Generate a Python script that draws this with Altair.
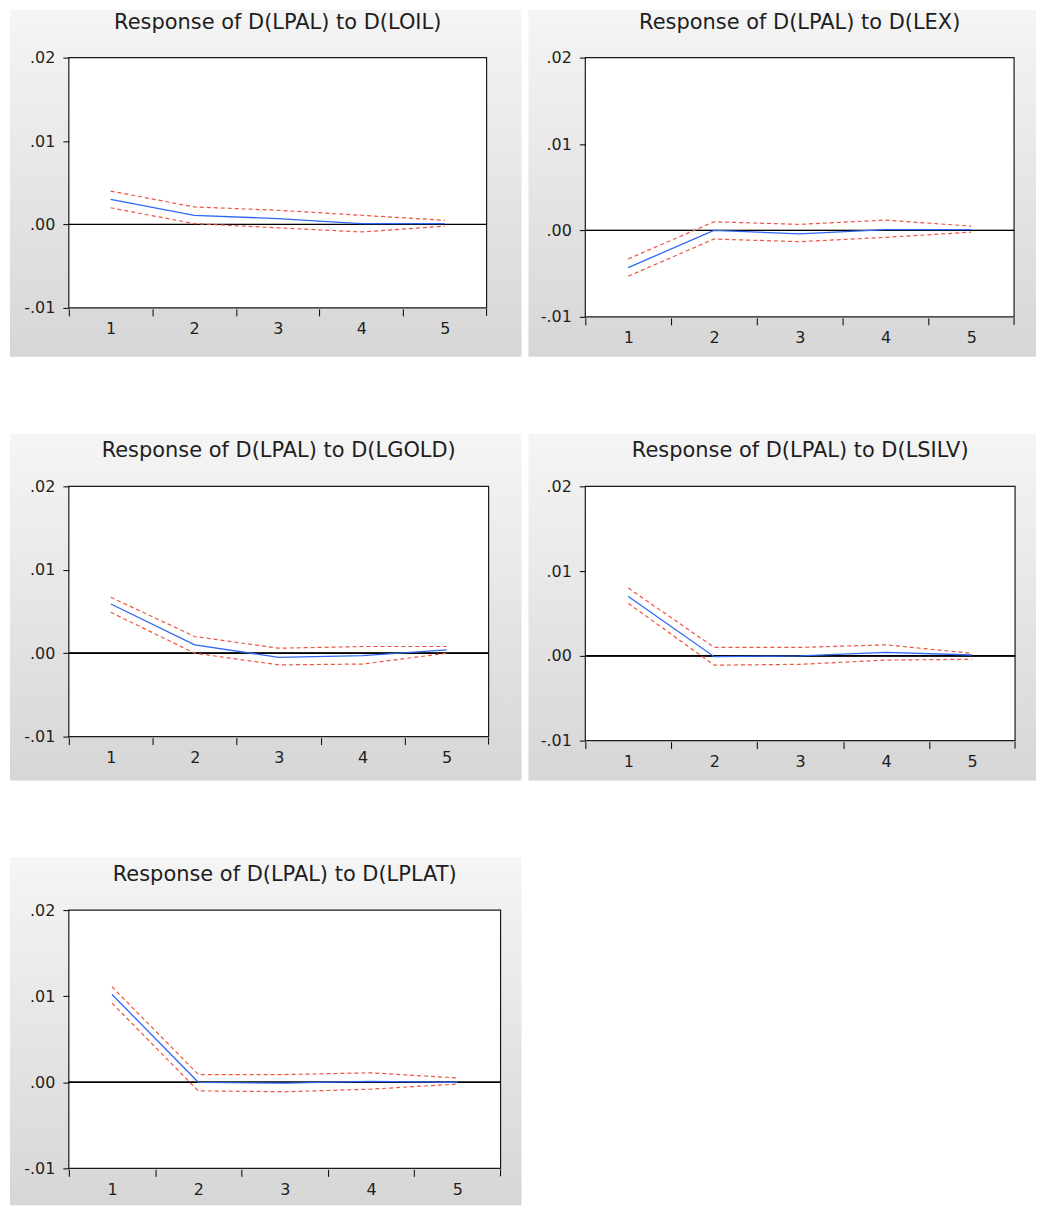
import altair as alt
import pandas as pd

# ---------------- data ----------------
periods = [1, 2, 3, 4, 5]

titles = [
    "Response of D(LPAL) to D(LOIL)",
    "Response of D(LPAL) to D(LEX)",
    "Response of D(LPAL) to D(LGOLD)",
    "Response of D(LPAL) to D(LSILV)",
    "Response of D(LPAL) to D(LPLAT)",
]

resp_loil = [0.0030, 0.0011, 0.0007, 0.0001, 0.0001]
upper_loil = [0.0040, 0.0021, 0.0017, 0.0011, 0.0005]
lower_loil = [0.0020, 0.0001, -0.0004, -0.0009, -0.0002]

resp_lex = [-0.0043, 0.0000, -0.0004, 0.0001, 0.0001]
upper_lex = [-0.0033, 0.0010, 0.0007, 0.0012, 0.0005]
lower_lex = [-0.0053, -0.0010, -0.0013, -0.0008, -0.0002]

resp_lgold = [0.0059, 0.0010, -0.0005, -0.0003, 0.0004]
upper_lgold = [0.0067, 0.0020, 0.0006, 0.0008, 0.0008]
lower_lgold = [0.0049, 0.0000, -0.0014, -0.0013, 0.0000]

resp_lsilv = [0.0070, -0.0001, 0.0000, 0.0004, 0.0001]
upper_lsilv = [0.0080, 0.0010, 0.0010, 0.0013, 0.0003]
lower_lsilv = [0.0062, -0.0011, -0.0010, -0.0005, -0.0004]

resp_lplat = [0.0102, 0.0000, -0.0001, 0.0001, 0.0000]
upper_lplat = [0.0111, 0.0009, 0.0009, 0.0011, 0.0005]
lower_lplat = [0.0092, -0.0010, -0.0011, -0.0008, -0.0002]

y_ticks = [-0.01, 0.0, 0.01, 0.02]
x_labels = [1, 2, 3, 4, 5]
x_last_edge = [5.5]

series = [
    (resp_loil, upper_loil, lower_loil),
    (resp_lex, upper_lex, lower_lex),
    (resp_lgold, upper_lgold, lower_lgold),
    (resp_lsilv, upper_lsilv, lower_lsilv),
    (resp_lplat, upper_lplat, lower_lplat),
]

# ---------------- styling / layout ----------------
# (plot width, plot height, box margin left, right, top, bottom)
geom = [
    (419, 251, 59, 35, 48, 49),
    (430, 260, 57, 22, 48, 40),
    (421, 251, 59, 33, 53, 44),
    (431, 255, 57, 21, 53, 40),
    (433, 259, 59, 21, 53, 37),
]

FONT = "DejaVu Sans"
BLUE = "#2f66f5"
RED = "#f0533f"
TEXT = "#1e1e1e"
TITLE_SIZE = 21

grad = alt.LinearGradient(
    gradient="linear",
    stops=[alt.GradientStop(color="#f5f5f5", offset=0),
           alt.GradientStop(color="#d6d6d6", offset=1)],
    x1=0, x2=0, y1=0, y2=1,
)


def panel(title, resp, upper, lower, g):
    w, h, L, R, T, B = g
    df = pd.DataFrame({"period": periods, "resp": resp, "upper": upper, "lower": lower})
    tdf = pd.DataFrame({"title": [title]})
    edf = pd.DataFrame({"edge": x_last_edge})
    half = w / 10.0

    xaxis = alt.Axis(
        values=x_labels, format="d", tickOffset=-half, labelOffset=half,
        labelFlush=False, labelOverlap=False, labelBound=False,
        domain=False, grid=False, tickSize=7, tickColor="black", tickWidth=1, offset=1,
        labelPadding=5, labelFont=FONT, labelFontSize=16, labelColor=TEXT, zindex=2,
    )
    yaxis = alt.Axis(
        values=y_ticks,
        labelExpr="datum.value < 0 ? '-' + replace(format(-datum.value, '.2f'), '0.', '.') : replace(format(datum.value, '.2f'), '0.', '.')",
        domain=False, grid=False, tickSize=6, tickColor="black", tickWidth=1,
        labelPadding=8, labelFont=FONT, labelFontSize=16, labelColor=TEXT, zindex=2,
    )
    xs = alt.Scale(domain=[0.5, 5.5], nice=False, zero=False)
    ys = alt.Scale(domain=[-0.01, 0.02], nice=False, zero=False)
    X = alt.X("period:Q", scale=xs, axis=xaxis, title=None)

    bg = alt.Chart(tdf).mark_rect(fill=grad).encode(
        x=alt.value(-L), x2=alt.value(w + R), y=alt.value(-T), y2=alt.value(h + B)
    )
    frame = alt.Chart(tdf).mark_rect(fill="white", stroke="#1a1a1a", strokeWidth=1.2).encode(
        x=alt.value(0), x2=alt.value(w), y=alt.value(0), y2=alt.value(h)
    )
    # title baseline ~29px above the plot frame (top-baseline keeps bounds inside the box)
    ttl = alt.Chart(tdf).mark_text(
        font=FONT, fontSize=TITLE_SIZE, color=TEXT, align="center", baseline="top"
    ).encode(x=alt.value(w / 2.0), y=alt.value(-29 - round(0.79 * TITLE_SIZE)), text="title:N")

    # closing tick at the right edge of the last period band
    edge_tick = alt.Chart(edf).mark_rule(color="black", strokeWidth=1).encode(
        x=alt.X("edge:Q", scale=xs, axis=xaxis, title=None),
        y=alt.value(h + 1), y2=alt.value(h + 8),
    )

    base = alt.Chart(df)
    zero = base.mark_rule(color="black", strokeWidth=1).encode(
        y=alt.Y(datum=0, scale=ys, axis=yaxis, title=None)
    )
    lo = base.mark_line(color=RED, strokeWidth=1.2, strokeDash=[4, 3]).encode(
        x=X, y=alt.Y("lower:Q", scale=ys, axis=yaxis, title=None)
    )
    up = base.mark_line(color=RED, strokeWidth=1.2, strokeDash=[4, 3]).encode(
        x=X, y=alt.Y("upper:Q", scale=ys, axis=yaxis, title=None)
    )
    rs = base.mark_line(color=BLUE, strokeWidth=1.3).encode(
        x=X, y=alt.Y("resp:Q", scale=ys, axis=yaxis, title=None)
    )
    return alt.layer(bg, frame, ttl, edge_tick, zero, lo, up, rs).properties(width=w, height=h)


panels = [panel(t, *s, g) for t, s, g in zip(titles, series, geom)]

chart = alt.concat(
    *panels, columns=2, spacing={"row": 77, "column": 7}, align="none", bounds="full"
).properties(
    padding={"left": 2, "top": 0, "right": 0, "bottom": 0}
).configure_view(strokeWidth=0)

chart.save("out.html", embed_options={"renderer": "svg", "actions": False})
